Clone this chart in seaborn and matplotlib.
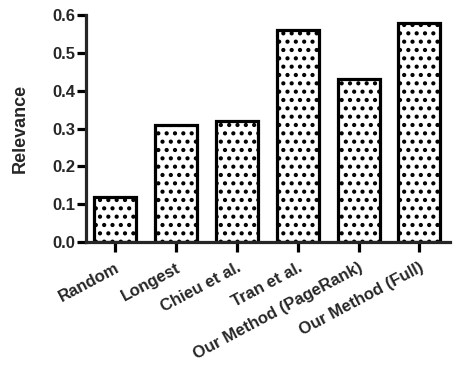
import matplotlib
matplotlib.use("Agg")
import matplotlib.pyplot as plt
import seaborn as sns
import pandas as pd

methods = ['Random', 'Longest', 'Chieu et al.', 'Tran et al.',
           'Our Method (PageRank)', 'Our Method (Full)']
relevance = [0.12, 0.31, 0.32, 0.56, 0.43, 0.58]
yticks = [0.0, 0.1, 0.2, 0.3, 0.4, 0.5, 0.6]

sns.set_style("ticks")
plt.rcParams['font.family'] = ['Liberation Sans', 'DejaVu Sans']
plt.rcParams['font.weight'] = 'bold'
plt.rcParams['hatch.linewidth'] = 1.8

df = pd.DataFrame({'method': methods, 'relevance': relevance})

fig = plt.figure(figsize=(4.53, 3.70), dpi=100)
ax = fig.add_axes([0.190, 0.346, 0.803, 0.613])

sns.barplot(data=df, x='method', y='relevance', color='white', edgecolor='black',
            linewidth=2.3, width=0.69, hatch='..', errorbar=None, ax=ax)
for p in ax.patches:
    p.set_facecolor('white')

ax.set_xlim(-0.475, 5.5)
ax.set_ylim(0, 0.6)
ax.set_yticks(yticks)
ax.set_yticklabels(['%.1f' % v for v in yticks], fontsize=12, fontweight='bold')
ax.set_xticks(range(len(methods)))
ax.set_xticklabels(methods, rotation=28, ha='right', rotation_mode='anchor',
                   fontsize=12, fontweight='bold')
ax.set_xlabel('')
ax.set_ylabel('Relevance', fontsize=13, fontweight='bold')
ax.yaxis.set_label_coords(-0.158, 0.5)

for s in ['left', 'bottom']:
    ax.spines[s].set_linewidth(2.3)
ax.spines['top'].set_visible(False)
ax.spines['right'].set_visible(False)
ax.tick_params(axis='both', width=2.3, color='black')
ax.tick_params(axis='y', length=6.5, pad=1.5)
ax.tick_params(axis='x', length=7, pad=6)

fig.savefig("out.png", dpi=100)
